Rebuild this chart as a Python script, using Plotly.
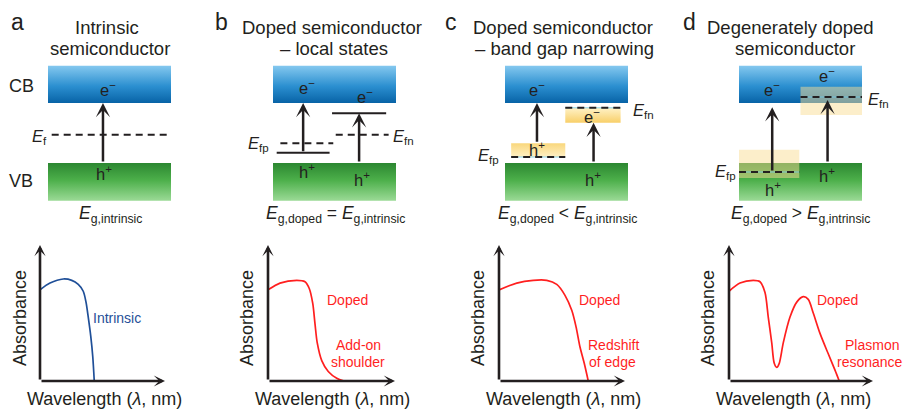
import plotly.graph_objects as go

W, H = 904, 410
FONT = "Liberation Sans, Arial, sans-serif"
INK = "#231f20"
RED = "#ff1f1f"
BLUE = "#1f4f98"

# ---------------- text content ----------------
letters = ["a", "b", "c", "d"]
title_line1 = ["Intrinsic", "Doped semiconductor", "Doped semiconductor", "Degenerately doped"]
title_line2 = ["semiconductor", "\u2013 local states", "\u2013 band gap narrowing", "semiconductor"]
gap_relations = [None, "=", "<", ">"]

# ---------------- band energies (VB maximum = 0, CB minimum = 1) ----------------
cb_bottom = 1.0
cb_top = 1.62
vb_top = 0.0
vb_bottom = -0.63
ef_intrinsic = 0.47
# b: localized dopant states inside the gap
acceptor_level = 0.17
donor_level = 0.83
efp_local = 0.33
efn_local = 0.47
# c: dopant bands close to the band edges
acceptor_band = [0.10, 0.33]
donor_band = [0.67, 0.92]
# d: degenerate doping, Fermi levels inside the bands
efp_degenerate = -0.15
efn_degenerate = 1.10
p_smear = [-0.25, 0.22]
n_smear = [0.80, 1.27]

# ---------------- absorbance spectra (arbitrary units) ----------------
wl_intrinsic = [300, 340, 393, 427, 453, 473, 484, 493, 503, 511, 517]
abs_intrinsic = [0.67, 0.72, 0.75, 0.74, 0.71, 0.66, 0.58, 0.47, 0.33, 0.18, 0.0]

wl_local = [300, 348, 415, 448, 465, 479, 488, 497, 515, 541, 575, 604]
abs_local = [0.67, 0.72, 0.74, 0.73, 0.68, 0.57, 0.42, 0.28, 0.15, 0.07, 0.02, 0.0]

wl_narrow = [300, 371, 437, 491, 531, 564, 591, 608, 624, 641, 657]
abs_narrow = [0.67, 0.72, 0.74, 0.74, 0.71, 0.63, 0.52, 0.40, 0.25, 0.13, 0.0]

wl_degenerate = [300, 344, 397, 424, 444, 457, 471, 481, 491, 501, 517, 544, 571,
                 597, 617, 637, 664, 697, 724, 741]
abs_degenerate = [0.66, 0.72, 0.74, 0.73, 0.65, 0.47, 0.28, 0.13, 0.10, 0.13, 0.28,
                  0.47, 0.58, 0.62, 0.60, 0.50, 0.35, 0.20, 0.08, 0.0]

spectra = [(wl_intrinsic, abs_intrinsic, BLUE),
           (wl_local, abs_local, RED),
           (wl_narrow, abs_narrow, RED),
           (wl_degenerate, abs_degenerate, RED)]
curve_notes = [[("Intrinsic", 117, 318)],
               [("Doped", 347, 300), ("Add-on", 358, 345), ("shoulder", 358, 362)],
               [("Doped", 599, 300), ("Redshift", 613, 345), ("of edge", 612, 362)],
               [("Doped", 837, 300), ("Plasmon", 872, 345), ("resonance", 870, 362)]]

# ---------------- layout geometry (pixels) ----------------
box_left = [48, 273, 505, 739]
BOX_W = 123
PX_PER_E = 60.0
VB_TOP_PX = 163
TOP_H = 230
origin_x = [40, 268, 499, 729]
tip_x = [165, 395, 625, 873]
ORIGIN_Y, TIP_Y = 381, 245
NM_PER_PX = 4.0
WL0 = 300


def fx(px):
    return px / W


def fy(py):
    return 1 - py / H


fig = go.Figure()
layout_axes = {}

for i in range(4):
    n = i + 1
    xs = "" if n == 1 else str(n)
    layout_axes["xaxis" + xs] = dict(domain=[fx(box_left[i]), fx(box_left[i] + BOX_W)],
                                     range=[0, 1], visible=False, anchor="y" + xs, fixedrange=True)
    layout_axes["yaxis" + xs] = dict(domain=[fy(TOP_H), 1],
                                     range=[(VB_TOP_PX - TOP_H) / PX_PER_E, VB_TOP_PX / PX_PER_E],
                                     visible=False, anchor="x" + xs, fixedrange=True)
    m = n + 4
    layout_axes["xaxis%d" % m] = dict(domain=[fx(origin_x[i]), fx(tip_x[i])],
                                      range=[WL0, WL0 + NM_PER_PX * (tip_x[i] - origin_x[i])],
                                      visible=False, anchor="y%d" % m, fixedrange=True)
    layout_axes["yaxis%d" % m] = dict(domain=[fy(ORIGIN_Y), fy(TIP_Y)], range=[0, 1],
                                      visible=False, anchor="x%d" % m, fixedrange=True)


def ax_ids(i):
    n = i + 1
    return ("x" if n == 1 else "x%d" % n), ("y" if n == 1 else "y%d" % n)


CB_SCALE = [[0, "#0863a6"], [0.45, "#2b8fd0"], [1, "#84c8ef"]]
VB_SCALE = [[0, "#9bda96"], [0.55, "#4caf4a"], [1, "#2c8731"]]
TAIL_N = [[0, "#f8cf68"], [1, "#fff2c8"]]
TAIL_P = [[0, "#fff0c4"], [1, "#f9d77c"]]


def rect(i, x0, x1, y0, y1, scale=None, color=None):
    xa, ya = ax_ids(i)
    kw = dict(x=[x0, x1, x1, x0, x0], y=[y0, y0, y1, y1, y0], mode="lines",
              fill="toself", line=dict(width=0), hoverinfo="skip", showlegend=False,
              xaxis=xa, yaxis=ya)
    if scale is not None:
        kw["fillgradient"] = dict(type="vertical", colorscale=scale)
        kw["fillcolor"] = scale[-1][1]
    else:
        kw["fillcolor"] = color
    fig.add_trace(go.Scatter(**kw))


def hline(i, x0, x1, e, dash=None, width=2.0, color=INK):
    xa, ya = ax_ids(i)
    fig.add_trace(go.Scatter(x=[x0, x1], y=[e, e], mode="lines",
                             line=dict(color=color, width=width, dash=dash or "solid"),
                             hoverinfo="skip", showlegend=False, xaxis=xa, yaxis=ya))


DASH = "7px,5px"
annotations = []


def arrow(i, x, e_from, e_to):
    xa, ya = ax_ids(i)
    annotations.append(dict(x=x, y=e_to, ax=x, ay=e_from, xref=xa, yref=ya, axref=xa, ayref=ya,
                            text="", showarrow=True, arrowhead=3, arrowsize=0.95, arrowwidth=2.5,
                            arrowcolor=INK, standoff=0, startstandoff=0))


def text(t, px, py, size, color=INK, xanchor="center", textangle=0):
    annotations.append(dict(text=t, x=fx(px), y=fy(py), xref="paper", yref="paper",
                            showarrow=False, xanchor=xanchor, yanchor="middle",
                            textangle=textangle, font=dict(family=FONT, size=size, color=color)))


# ---- band boxes for all four panels ----
for i in range(4):
    rect(i, 0, 1, cb_bottom, cb_top, scale=CB_SCALE)
    rect(i, 0, 1, vb_bottom, vb_top, scale=VB_SCALE)

# a: intrinsic
hline(0, 0.03, 0.99, ef_intrinsic, dash=DASH)
arrow(0, 0.447, vb_top, cb_bottom)

# b: localized states
hline(1, 0.03, 0.46, acceptor_level)
hline(1, 0.48, 0.92, donor_level)
hline(1, 0.06, 0.49, efp_local, dash=DASH)
hline(1, 0.51, 0.94, efn_local, dash=DASH)
arrow(1, 0.245, acceptor_level, cb_bottom)
arrow(1, 0.70, vb_top, donor_level)

# c: band gap narrowing
rect(2, 0.05, 0.49, acceptor_band[0], acceptor_band[1], scale=TAIL_P)
rect(2, 0.49, 0.94, donor_band[0], donor_band[1], scale=TAIL_N)
hline(2, 0.05, 0.49, acceptor_band[0], width=1, color="rgba(110,200,230,0.8)")
hline(2, 0.49, 0.94, donor_band[1], width=1, color="rgba(110,200,230,0.8)")
hline(2, 0.05, 0.49, acceptor_band[0], dash=DASH)
hline(2, 0.49, 0.94, donor_band[1], dash=DASH)
arrow(2, 0.26, acceptor_band[1], cb_bottom)
arrow(2, 0.72, vb_top, donor_band[0])

# d: degenerate doping
rect(3, 0.0, 0.49, p_smear[0], p_smear[1], color="rgba(250,222,150,0.5)")
rect(3, 0.5, 1.0, n_smear[0], n_smear[1], color="rgba(250,222,150,0.5)")
hline(3, 0.0, 0.49, efp_degenerate, width=1, color="rgba(110,200,230,0.8)")
hline(3, 0.5, 1.0, efn_degenerate, width=1, color="rgba(110,200,230,0.8)")
hline(3, 0.0, 0.49, efp_degenerate, dash=DASH)
hline(3, 0.5, 1.0, efn_degenerate, dash=DASH)
arrow(3, 0.27, efp_degenerate, cb_bottom - 0.07)
arrow(3, 0.72, vb_top, efn_degenerate - 0.05)

# ---- spectra with arrowed axes ----
for i, (wl, ab, col) in enumerate(spectra):
    m = i + 5
    xa, ya = "x%d" % m, "y%d" % m
    fig.add_trace(go.Scatter(x=wl, y=ab, mode="lines", line=dict(color=col, width=1.7, shape="spline",
                                                                 smoothing=0.8),
                             hoverinfo="skip", showlegend=False, xaxis=xa, yaxis=ya))
    x_end = WL0 + NM_PER_PX * (tip_x[i] - origin_x[i])
    for (tx, ty) in [(WL0, 1.0), (x_end, 0.0)]:
        annotations.append(dict(x=tx, y=ty, ax=WL0, ay=0.0, xref=xa, yref=ya, axref=xa, ayref=ya,
                                text="", showarrow=True, arrowhead=3, arrowsize=0.72,
                                arrowwidth=2.6, arrowcolor=INK, standoff=0, startstandoff=0))
    for (t, px, py) in curve_notes[i]:
        text(t, px, py, 14, color=col)

# ---- text ----
letter_x = [17, 221, 451, 689]
title_x1 = [107, 332, 563, 790]
title_x2 = [110, 334, 564, 795]
for i in range(4):
    text(letters[i], letter_x[i], 22, 23)
    text(title_line1[i], title_x1[i], 27, 18.5)
    text(title_line2[i], title_x2[i], 48, 18.5)

text("CB", 21, 86, 18)
text("VB", 21, 181, 18)

EM = "e<sup>\u2212</sup>"
HP = "h<sup>+</sup>"
for (t, px, py) in [(EM, 108, 89), (HP, 104, 173),
                    (EM, 307, 87), (EM, 365, 96), (HP, 307, 171), (HP, 362, 179),
                    (EM, 537, 89), (EM, 592, 116), (HP, 537, 149), (HP, 593, 179),
                    (EM, 772, 89), (EM, 827, 75), (HP, 827, 175), (HP, 773, 189)]:
    text(t, px, py, 16.5)

E = "<i>E</i>"
text(E + "<sub>f</sub>", 49, 137, 16.5, xanchor="right")
text(E + "<sub>fp</sub>", 271, 144, 16.5, xanchor="right")
text(E + "<sub>fn</sub>", 391, 137, 16.5, xanchor="left")
text(E + "<sub>fn</sub>", 631, 111, 16.5, xanchor="left")
text(E + "<sub>fp</sub>", 501, 156, 16.5, xanchor="right")
text(E + "<sub>fn</sub>", 866, 100, 16.5, xanchor="left")
text(E + "<sub>fp</sub>", 738, 172, 16.5, xanchor="right")

gap_x = [110, 335, 567, 800]
for i in range(4):
    if gap_relations[i] is None:
        s = E + "<sub>g,intrinsic</sub>"
    else:
        s = E + "<sub>g,doped</sub> " + gap_relations[i] + " " + E + "<sub>g,intrinsic</sub>"
    text(s, gap_x[i], 214, 17.5)

absorb_x = [20, 247, 478, 708]
wave_x = [104, 332, 563, 793]
for i in range(4):
    text("Absorbance", absorb_x[i], 318, 18, textangle=-90)
    text("Wavelength (<i>\u03bb</i>, nm)", wave_x[i], 399, 18)

fig.update_layout(width=W, height=H, margin=dict(l=0, r=0, t=0, b=0),
                  paper_bgcolor="white", plot_bgcolor="rgba(0,0,0,0)",
                  annotations=annotations, showlegend=False, **layout_axes)

fig.write_html("out.html", config={"displayModeBar": False})
